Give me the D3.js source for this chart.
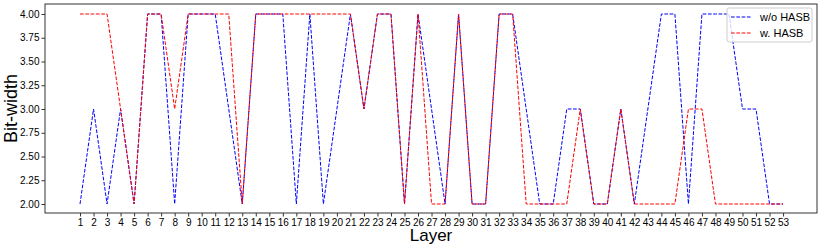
<!DOCTYPE html>
<html>
<head>
<meta charset="utf-8">
<script src="https://cdn.jsdelivr.net/npm/d3@7/dist/d3.min.js"></script>
<style>
  body { margin: 0; background: #fff; }
  svg { display: block; font-family: "Liberation Sans", Arial, sans-serif; }
</style>
</head>
<body>
<svg width="822" height="249"></svg>
<script>
// layers 1..53
const layers = d3.range(1, 54);
const withoutHasb = [2,3,2,3,2,4,4,2,4,4, 4,3,2,4,4,4,2,4,2,3, 4,3,4,4,2,4,3,2,4,2, 2,4,4,3,2,2,3,3,2,2, 3,2,3,4,4,2,4,4,4,3, 3,2,2];
const withHasb = [4,4,4,3,2,4,4,3,4,4, 4,4,2,4,4,4,4,4,4,4, 4,3,4,4,2,4,2,2,4,2, 2,4,4,2,2,2,2,3,2,2, 3,2,2,2,2,3,3,2,2,2, 2,2,2];
const yTicks = [2.00, 2.25, 2.50, 2.75, 3.00, 3.25, 3.50, 3.75, 4.00];

const series = [
  { name: 'w/o HASB', values: withoutHasb, color: 'blue' },
  { name: 'w. HASB', values: withHasb, color: 'red' }
];

const svg = d3.select('svg');
const plot = { left: 45, right: 817, top: 4, bottom: 213 };

const x = d3.scaleLinear().domain([-1.59, 55.51]).range([plot.left, plot.right]);
const y = d3.scaleLinear().domain([2, 4]).range([204, 14]);

// x axis
const xAxis = svg.append('g')
  .attr('transform', `translate(0, ${plot.bottom})`)
  .call(d3.axisBottom(x).tickValues(layers).tickSize(3.5).tickPadding(2).tickFormat(d3.format('d')));
xAxis.select('.domain').remove();
xAxis.selectAll('text').attr('font-size', 10).attr('fill', '#000').attr('font-family', '"Liberation Sans", Arial, sans-serif');
xAxis.selectAll('line').attr('stroke', '#333');

// y axis
const yAxis = svg.append('g')
  .attr('transform', `translate(${plot.left}, 0)`)
  .call(d3.axisLeft(y).tickValues(yTicks).tickSize(3.5).tickPadding(2).tickFormat(d3.format('.2f')));
yAxis.select('.domain').remove();
yAxis.selectAll('text').attr('font-size', 10).attr('fill', '#000').attr('font-family', '"Liberation Sans", Arial, sans-serif');
yAxis.selectAll('line').attr('stroke', '#333');

// frame
svg.append('rect')
  .attr('x', plot.left).attr('y', plot.top)
  .attr('width', plot.right - plot.left).attr('height', plot.bottom - plot.top)
  .attr('fill', 'none').attr('stroke', '#333').attr('stroke-width', 1);

const line = d3.line()
  .x((d, i) => x(layers[i]))
  .y(d => y(d));

svg.selectAll('.series')
  .data(series)
  .enter().append('path')
    .attr('class', 'series')
    .attr('d', d => line(d.values))
    .attr('fill', 'none')
    .attr('stroke', d => d.color)
    .attr('stroke-width', 1)
    .attr('stroke-dasharray', '3.7,1.6');

// labels
svg.append('text')
  .attr('x', (plot.left + plot.right) / 2).attr('y', 241)
  .attr('text-anchor', 'middle')
  .attr('font-size', 17)
  .text('Layer');

svg.append('text')
  .attr('transform', `translate(17, ${(plot.top + plot.bottom) / 2}) rotate(-90)`)
  .attr('text-anchor', 'middle')
  .attr('font-size', 18)
  .text('Bit-width');

// legend
const legend = svg.append('g').attr('transform', 'translate(727, 8)');
legend.append('rect')
  .attr('width', 85).attr('height', 34).attr('rx', 2)
  .attr('fill', 'rgba(255,255,255,0.8)').attr('stroke', '#ccc');
series.forEach((s, i) => {
  const yy = 9 + i * 16;
  legend.append('line')
    .attr('x1', 4).attr('x2', 25).attr('y1', yy).attr('y2', yy)
    .attr('stroke', s.color).attr('stroke-width', 1).attr('stroke-dasharray', '3.7,1.6');
  legend.append('text')
    .attr('x', 33).attr('y', yy + 4)
    .attr('font-size', 11)
    .text(s.name);
});
</script>
</body>
</html>
